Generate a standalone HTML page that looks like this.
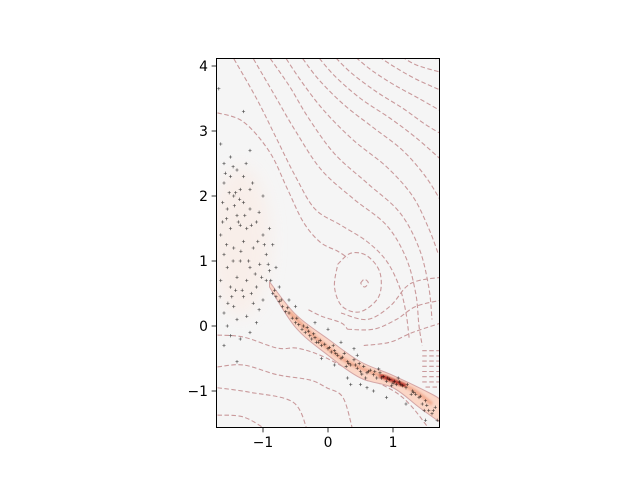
<!DOCTYPE html>
<html><head><meta charset="utf-8">
<style>
html,body{margin:0;padding:0;background:#fff;}
svg{display:block;font-family:"DejaVu Sans","Liberation Sans",sans-serif;}
</style></head>
<body>
<svg id="chart" width="640" height="480" viewBox="0 0 640 480" xmlns="http://www.w3.org/2000/svg">
<defs>
<clipPath id="clip"><rect x="216.5" y="58.5" width="223" height="369"/></clipPath>
<filter id="blur" x="-50%" y="-50%" width="200%" height="200%"><feGaussianBlur stdDeviation="8"/></filter>
<filter id="blur2"><feGaussianBlur stdDeviation="1.2"/></filter>
</defs>
<rect x="216.5" y="58.5" width="223" height="369" fill="#f5f5f5"/>
<g id="plot" clip-path="url(#clip)"></g>
<rect x="216.5" y="58.5" width="223" height="369" fill="none" stroke="#000" stroke-width="1"/>
<g id="axes"></g>
</svg>
<script>
const xTicks = [-1, 0, 1];
const yTicks = [-1, 0, 1, 2, 3, 4];

const bandUpper = [[-0.9,0.68],[-0.5,0.18],[0,-0.2],[0.5,-0.55],[1.0,-0.76],[1.6,-1.05],[1.75,-1.15]];
const bandLower = [[1.75,-1.5],[1.4,-1.25],[1.0,-0.95],[0.5,-0.8],[0,-0.45],[-0.5,-0.02],[-0.9,0.6]];
const bandCore = [[-0.6,0.22],[-0.2,-0.17],[0.3,-0.55],[0.9,-0.8],[1.3,-0.98],[1.6,-1.2]];
const bandPeak = [[0.8,-0.76],[1.0,-0.84],[1.2,-0.92]];

const contours = [
 [[-1.7,3.28],[-1.3,3.14],[-0.9,2.68],[-0.63,2.12],[-0.38,1.6],[-0.12,1.29],[0.15,1.15],[0.3,1.05]],
 [[-1.5,4.2],[-1.1,3.5],[-0.8,2.9],[-0.5,2.3],[-0.2,1.8],[0.2,1.55],[0.6,1.3],[0.9,1.0],[1.1,0.6],[1.2,0.2],[1.25,-0.2]],
 [[-1.2,4.2],[-0.85,3.6],[-0.5,3.0],[-0.1,2.4],[0.4,1.95],[0.9,1.55],[1.2,1.05],[1.35,0.5],[1.4,0.0],[1.45,-0.3]],
 [[-0.95,4.2],[-0.6,3.7],[-0.3,3.2],[0.1,2.65],[0.6,2.2],[1.1,1.75],[1.4,1.2],[1.55,0.6],[1.6,0.1]],
 [[-0.7,4.2],[-0.4,3.75],[-0.05,3.3],[0.4,2.85],[0.9,2.45],[1.3,2.0],[1.55,1.5],[1.7,1.1]],
 [[-0.45,4.2],[-0.15,3.8],[0.25,3.4],[0.7,3.05],[1.15,2.7],[1.5,2.3],[1.75,1.9]],
 [[-0.2,4.2],[0.1,3.85],[0.5,3.5],[0.95,3.2],[1.35,2.9],[1.75,2.55]],
 [[0.05,4.2],[0.35,3.9],[0.75,3.6],[1.15,3.35],[1.5,3.1],[1.75,2.95]],
 [[0.35,4.2],[0.65,3.95],[1.0,3.72],[1.4,3.5],[1.75,3.3]],
 [[0.7,4.2],[1.0,4.0],[1.35,3.8],[1.75,3.62]],
 [[1.05,4.2],[1.35,4.02],[1.75,3.9]],
 [[1.4,4.2],[1.75,4.08]],
 [[0.15,0.95],[0.35,1.12],[0.6,1.08],[0.8,0.82],[0.78,0.45],[0.5,0.22],[0.22,0.3],[0.1,0.6],[0.15,0.95]],
 [[0.5,0.66],[0.56,0.72],[0.62,0.66],[0.56,0.6],[0.5,0.66]],
 [[0.2,0.2],[0.6,0.1],[0.95,0.3],[1.2,0.6],[1.4,0.7],[1.75,0.75]],
 [[0.3,-0.05],[0.7,-0.05],[1.05,0.1],[1.35,0.3],[1.75,0.4]],
 [[0.55,-0.3],[0.95,-0.25],[1.3,-0.1],[1.75,0.05]],
 [[-0.3,0.25],[-0.1,0.15],[0.2,0.05],[0.3,-0.05]],
 [[-1.7,-0.14],[-1.3,-0.17],[-0.78,-0.34],[-0.48,-0.34],[-0.12,-0.45],[0.34,-0.68],[1.1,-1.06],[1.57,-1.6]],
 [[-1.7,-0.63],[-1.3,-0.6],[-0.78,-0.75],[-0.28,-0.83],[-0.02,-0.95],[0.23,-1.1],[0.38,-1.6]],
 [[-1.7,-0.95],[-1.2,-1.02],[-0.54,-1.17],[-0.32,-1.6]],
 [[-1.7,-1.37],[-1.3,-1.4],[-0.94,-1.6]],
 [[1.45,-0.38],[1.75,-0.38]],[[1.45,-0.46],[1.75,-0.46]],[[1.45,-0.54],[1.75,-0.54]],
 [[1.45,-0.62],[1.75,-0.62]],[[1.45,-0.7],[1.75,-0.7]],[[1.45,-0.78],[1.75,-0.78]],
 [[1.45,-0.86],[1.75,-0.86]],[[1.5,-0.94],[1.75,-0.94]]
];

const pointsX = [-0.85,-0.8,-0.75,-0.7,-0.65,-0.6,-0.55,-0.5,-0.45,-0.4,-0.35,-0.3,-0.28,-0.25,-0.2,-0.15,-0.1,-0.05,0,0.05,0.1,0.15,0.2,0.25,0.3,0.35,0.4,0.45,0.5,0.55,0.6,0.65,0.7,0.75,0.8,0.85,0.9,0.95,1.0,1.05,1.1,1.15,1.2,1.3,1.35,1.4,1.45,1.5,1.55,1.6,1.65,1.68,0.3,0.5,0.1,-0.1,0.7,0.2,0.45,-0.2,0.6,0.9,1.2,1.5,0.0,-0.5,-0.6,0.4,0.35,-1.4,
 -1.65,-1.6,-1.5,-1.4,-1.3,-1.35,-1.45,-1.6,-1.55,-1.4,-1.3,-1.2,-1.1,-1.25,-1.5,-1.65,-1.6,-1.45,-1.3,-1.15,-1.0,-0.95,-1.05,-1.2,-1.35,-1.55,-1.65,-1.5,-1.4,-1.25,-1.1,-0.95,-0.9,-0.8,-0.75,-1.0,-1.15,-1.3,-1.45,-1.6,-1.55,-1.4,-1.25,-1.1,-1.35,-1.6,-1.5,-1.2,-1.68,-1.3,-1.2,-1.0,-0.9,-0.85,-1.62,-1.5,-1.35,-1.2,-1.42,-1.48,
 -0.72,-0.62,-0.48,-0.38,-0.22,-0.12,0.02,0.12,0.22,0.32,0.42,0.52,0.62,0.72,0.82,0.92,1.02,1.12,1.22,1.32,1.42,1.52,1.62,-0.32,-0.18,0.08,0.28,0.48,0.58,0.78,0.98,1.08,1.28,1.48,
 -1.58,-1.52,-1.44,-1.38,-1.28,-1.18,-1.08,-0.98,-1.62,-1.56,-1.46,-1.34,-1.22,-1.12,-1.02,-0.92,-1.66,-1.54,-1.42,-1.32,-1.18,-1.06,-0.88,-0.82,-1.26,-1.36,-1.46,-1.56,-1.16,-1.06];
const pointsY = [0.5,0.45,0.38,0.3,0.22,0.2,0.12,0.05,0.02,-0.05,-0.1,-0.08,-0.15,-0.2,-0.18,-0.25,-0.3,-0.28,-0.35,-0.4,-0.38,-0.45,-0.5,-0.42,-0.55,-0.6,-0.52,-0.65,-0.7,-0.62,-0.72,-0.68,-0.75,-0.8,-0.72,-0.78,-0.85,-0.82,-0.88,-0.9,-0.86,-0.92,-0.95,-1.0,-1.05,-1.1,-1.2,-1.15,-1.3,-1.35,-1.25,-1.45,-0.8,-0.9,-0.6,-0.5,-1.0,-0.25,-0.45,0.05,-0.95,-1.1,-1.2,-1.45,-0.05,0.3,0.4,-0.35,-0.9,-0.55,
 2.8,2.5,2.6,2.4,2.3,2.1,2.0,2.2,1.8,1.7,1.9,1.8,1.6,1.5,1.5,1.4,1.1,1.2,1.3,1.2,1.4,1.1,0.95,0.9,1.0,0.9,0.7,0.6,0.75,0.7,0.6,0.7,0.85,0.9,0.6,0.4,0.35,0.45,0.3,0.2,0.0,0.1,0.15,0.05,-0.2,-0.3,-0.15,-0.1,3.65,3.3,2.7,2.0,1.5,1.25,1.9,2.3,1.55,2.1,2.05,0.45,
 0.4,0.28,0.12,0.0,-0.12,-0.22,-0.33,-0.42,-0.48,-0.58,-0.6,-0.74,-0.7,-0.7,-0.8,-0.8,-0.85,-0.9,-0.9,-1.02,-1.08,-1.22,-1.3,-0.02,-0.25,-0.3,-0.62,-0.58,-0.8,-0.66,-0.92,-0.8,-1.05,-1.3,
 2.35,2.05,1.85,1.6,1.7,1.55,1.3,1.25,1.6,1.25,1.0,1.15,1.0,0.8,0.75,0.95,0.45,0.35,0.55,0.55,0.5,0.25,0.7,0.55,2.5,1.95,2.45,1.65,2.2,1.75];

const NS = "http://www.w3.org/2000/svg";
function sx(v){ return 328 + v * 65; }
function sy(v){ return 326 - v * 65; }
function smooth(pts){
  const p = pts.map(d => [sx(d[0]), sy(d[1])]);
  if (p.length < 3) return "M" + p.map(q => q.join(",")).join("L");
  let s = "M" + p[0][0] + "," + p[0][1];
  for (let i = 0; i < p.length - 1; i++) {
    const a = p[i-1] || p[i], b = p[i], c = p[i+1], d = p[i+2] || c;
    const c1 = [b[0] + (c[0]-a[0])/6, b[1] + (c[1]-a[1])/6];
    const c2 = [c[0] - (d[0]-b[0])/6, c[1] - (d[1]-b[1])/6];
    s += "C" + c1.join(",") + " " + c2.join(",") + " " + c.join(",");
  }
  return s;
}
function mk(tag, attrs, parent){
  const e = document.createElementNS(NS, tag);
  for (const k in attrs) e.setAttribute(k, attrs[k]);
  parent.appendChild(e);
  return e;
}
const plot = document.getElementById("plot");

const blob = mk("ellipse", {cx: sx(-1.35), cy: sy(1.3), rx: 30, ry: 75, fill: "#fbe9e1", filter: "url(#blur)", opacity: 0.55}, plot);



contours.forEach((c, i) => {
  const p = mk("path", {d: smooth(c), fill: "none", stroke: "#c9999b", "stroke-width": 1.1, "stroke-dasharray": "4.5,2.5"}, plot);
  
  
});

const band = mk("path", {d: smooth(bandUpper) + "L" + smooth(bandLower).slice(1) + "Z", fill: "#fbd6c6", stroke: "#d4a6a6", "stroke-width": 1}, plot);


const core = mk("path", {d: smooth(bandCore), fill: "none", stroke: "#f0a88c", "stroke-width": 3.5, filter: "url(#blur2)"}, plot);


const peak = mk("path", {d: smooth(bandPeak), fill: "none", stroke: "#a8140f", "stroke-width": 3, filter: "url(#blur2)"}, plot);



pointsX.forEach((x, i) => {
  const px = sx(x), py = sy(pointsY[i]);
  const m = mk("path", {d: `M${px-1.6},${py}H${px+1.6}M${px},${py-1.6}V${py+1.6}`, stroke: "#000", "stroke-width": 0.6, opacity: 0.75}, plot);
  
  
});

const axes = document.getElementById("axes");
xTicks.forEach(t => {
  const x = sx(t);
  const l = mk("line", {x1: x, x2: x, y1: 427.5, y2: 432.4, stroke: "#000", "stroke-width": 0.8}, axes);
  
  
  const tx = mk("text", {x: x, y: 447, "font-size": 13.9, "text-anchor": "middle", fill: "#000"}, axes);
  tx.textContent = t < 0 ? "\u2212" + Math.abs(t) : String(t);
  
  
});
yTicks.forEach(t => {
  const y = sy(t);
  const l = mk("line", {x1: 211.6, x2: 216.5, y1: y, y2: y, stroke: "#000", "stroke-width": 0.8}, axes);
  
  
  const tx = mk("text", {x: 208, y: y + 5, "font-size": 13.9, "text-anchor": "end", fill: "#000"}, axes);
  tx.textContent = t < 0 ? "\u2212" + Math.abs(t) : String(t);
  
  
});
</script>
</body></html>
